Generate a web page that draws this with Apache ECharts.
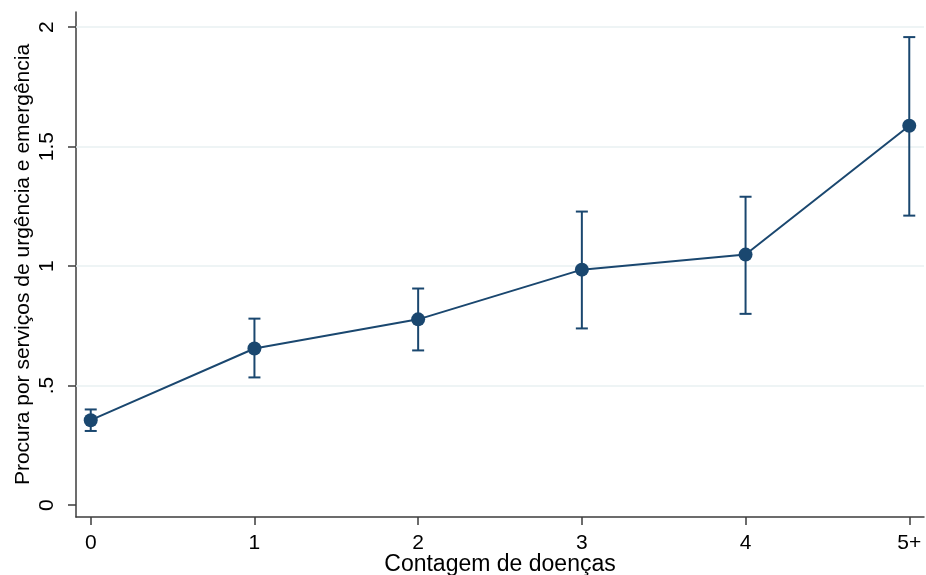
<!DOCTYPE html>
<html>
<head>
<meta charset="utf-8">
<script src="https://cdn.jsdelivr.net/npm/echarts@6/dist/echarts.min.js"></script>
<style>
  html, body { margin: 0; padding: 0; background: #fff; }
  #chart { width: 926px; height: 575px; }
</style>
</head>
<body>
<div id="chart"></div>
<script>
// categories on the x axis (drawn at positions 0..5)
const categories = ['0', '1', '2', '3', '4', '5+'];
const xPos = [0, 1, 2, 3, 4, 5];
// predicted values and confidence limits
const means = [0.355, 0.655, 0.777, 0.985, 1.048, 1.587];
const lower = [0.31, 0.534, 0.647, 0.739, 0.80, 1.211];
const upper = [0.40, 0.78, 0.906, 1.228, 1.29, 1.958];
// y ticks
const yTicks = [0, 0.5, 1, 1.5, 2];
const yTickLabels = ['0', '.5', '1', '1.5', '2'];

const navy = '#1a476f';
const axisColor = '#3c3c3c';
const font = "'Liberation Sans', Arial, sans-serif";

const chart = echarts.init(document.getElementById('chart'));

const option = {
  animation: false,
  backgroundColor: '#fff',
  grid: { left: 76, right: 2, top: 12, bottom: 58, containLabel: false, outerBoundsMode: 'none' },
  xAxis: {
    type: 'value',
    min: -0.09,
    max: 5.09,
    name: 'Contagem de doenças',
    nameLocation: 'middle',
    nameGap: 36,
    nameMoveOverlap: false,
    nameTextStyle: { color: '#000', fontSize: 23, fontFamily: font },
    axisLine: { show: true, onZero: false, lineStyle: { color: axisColor, width: 1.5 } },
    axisTick: { show: true, length: 8, customValues: xPos, lineStyle: { color: axisColor, width: 1.5 } },
    axisLabel: {
      customValues: xPos,
      margin: 16,
      color: '#000',
      fontSize: 21,
      fontFamily: font,
      formatter: (v) => categories[xPos.indexOf(v)] || ''
    },
    splitLine: { show: false }
  },
  yAxis: {
    type: 'value',
    min: -0.05,
    max: 2.063,
    name: 'Procura por serviços de urgência e emergência',
    nameLocation: 'middle',
    nameGap: 42,
    nameMoveOverlap: false,
    nameTextStyle: { color: '#000', fontSize: 21, fontFamily: font },
    axisLine: { show: true, onZero: false, lineStyle: { color: axisColor, width: 1.5 } },
    axisTick: { show: true, length: 8, customValues: yTicks, lineStyle: { color: axisColor, width: 1.5 } },
    axisLabel: {
      customValues: yTicks,
      rotate: 90,
      margin: 18,
      color: '#000',
      fontSize: 21,
      fontFamily: font,
      formatter: (v) => yTickLabels[yTicks.indexOf(v)] || ''
    },
    splitLine: { show: false }
  },
  series: [
    {
      type: 'custom',
      name: 'ci',
      z: 2,
      data: xPos.map((x, i) => [x, lower[i], upper[i]]),
      renderItem: function (params, api) {
        const lo = api.coord([api.value(0), api.value(1)]);
        const hi = api.coord([api.value(0), api.value(2)]);
        const hw = 6;
        const style = { stroke: navy, lineWidth: 2 };
        return {
          type: 'group',
          children: [
            { type: 'line', shape: { x1: lo[0], y1: lo[1], x2: hi[0], y2: hi[1] }, style: style },
            { type: 'line', shape: { x1: lo[0] - hw, y1: lo[1], x2: lo[0] + hw, y2: lo[1] }, style: style },
            { type: 'line', shape: { x1: hi[0] - hw, y1: hi[1], x2: hi[0] + hw, y2: hi[1] }, style: style }
          ]
        };
      }
    },
    {
      type: 'line',
      name: 'mean',
      z: 3,
      data: xPos.map((x, i) => [x, means[i]]),
      symbol: 'circle',
      symbolSize: 14,
      itemStyle: { color: navy },
      lineStyle: { color: navy, width: 2 },
      markLine: {
        silent: true,
        symbol: 'none',
        label: { show: false },
        lineStyle: { color: '#e8f0f2', width: 1.5, type: 'solid' },
        z: 1,
        data: yTicks.filter((v) => v > 0).map((v) => ({ yAxis: v }))
      }
    }
  ]
};

chart.setOption(option);
</script>
</body>
</html>
